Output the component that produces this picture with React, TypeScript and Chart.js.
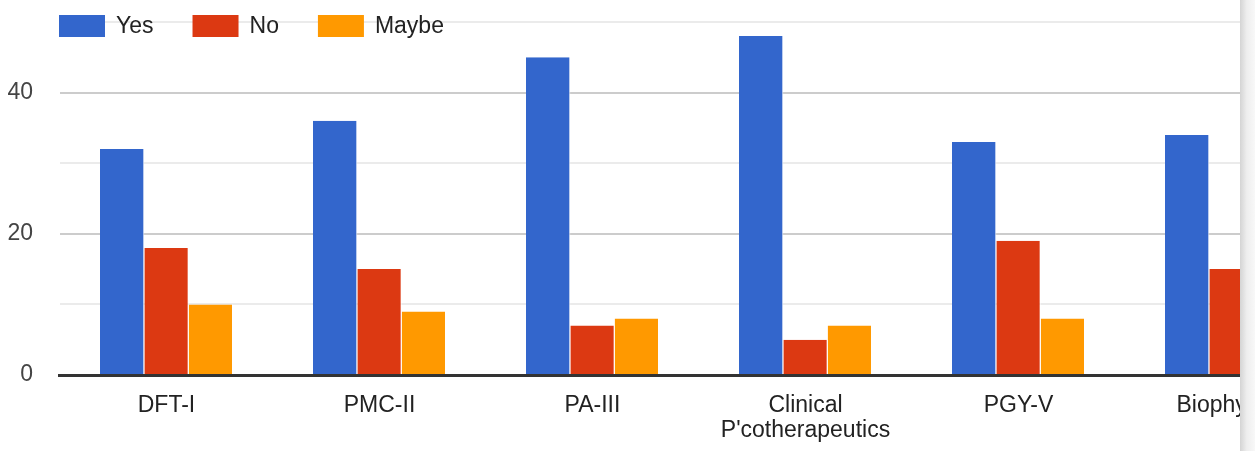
import React, { useEffect, useRef } from "react";
import { Chart, registerables } from "chart.js";

Chart.register(...registerables);

const categories: (string | string[])[] = [
  "DFT-I",
  "PMC-II",
  "PA-III",
  ["Clinical", "P'cotherapeutics"],
  "PGY-V",
  "Biophysics",
];
const yesValues = [32, 36, 45, 48, 33, 34];
const noValues = [18, 15, 7, 5, 19, 15];
const maybeValues = [10, 9, 8, 7, 8, 15];
const seriesNames = ["Yes", "No", "Maybe"];
const seriesColors = ["#3366cc", "#dc3912", "#ff9900"];
const yTickLabels = [0, 20, 40];

const FONT = '"Liberation Sans", Arial, sans-serif';

const overlayPlugin = {
  id: "overlay",
  afterDatasetsDraw(chart: any) {
    const { ctx, chartArea, scales } = chart;
    const y0 = scales.y.getPixelForValue(0);
    ctx.save();
    ctx.strokeStyle = "#333333";
    ctx.lineWidth = 3;
    ctx.beginPath();
    ctx.moveTo(chartArea.left - 2, y0 + 0.5);
    ctx.lineTo(chartArea.right, y0 + 0.5);
    ctx.stroke();

    // legend
    ctx.font = `23px ${FONT}`;
    ctx.textBaseline = "middle";
    ctx.textAlign = "left";
    let x = chartArea.left - 1;
    const cy = 26;
    seriesNames.forEach((name, i) => {
      ctx.fillStyle = seriesColors[i];
      ctx.fillRect(x, cy - 11, 46, 22);
      x += 46 + 11;
      ctx.fillStyle = "#222222";
      ctx.fillText(name, x, cy + 1);
      x += ctx.measureText(name).width + 39;
    });
    ctx.restore();
  },
};

export default function App() {
  const canvasRef = useRef<HTMLCanvasElement | null>(null);

  useEffect(() => {
    if (!canvasRef.current) return;
    const mk = (label: string, data: number[], color: string) => ({
      label,
      data,
      backgroundColor: color,
      borderColor: "#ffffff",
      borderWidth: { top: 0, bottom: 0, left: 0, right: 1 },
      borderSkipped: false,
      categoryPercentage: 0.6244,
      barPercentage: 1,
    });
    const chart = new Chart(canvasRef.current, {
      type: "bar",
      data: {
        labels: categories,
        datasets: [
          mk(seriesNames[0], yesValues, seriesColors[0]),
          mk(seriesNames[1], noValues, seriesColors[1]),
          mk(seriesNames[2], maybeValues, seriesColors[2]),
        ],
      },
      options: {
        animation: false,
        responsive: false,
        devicePixelRatio: 1,
        layout: { padding: { top: 22, left: 0, right: 0, bottom: 0 } },
        plugins: {
          legend: { display: false },
          tooltip: { enabled: false },
        },
        scales: {
          x: {
            grid: { display: false, drawTicks: false },
            border: { display: false },
            ticks: {
              font: { family: FONT, size: 23, lineHeight: 1.1 },
              color: "#222222",
              padding: 18,
              maxRotation: 0,
              autoSkip: false,
            },
            afterFit: (scale: any) => {
              scale.height = 76;
            },
          },
          y: {
            min: 0,
            max: 50,
            border: { display: false },
            grid: {
              drawTicks: false,
              lineWidth: 2,
              color: (c: any) =>
                c.tick && c.tick.value % 20 === 0 ? "#cccccc" : "#ebebeb",
            },
            ticks: {
              stepSize: 10,
              font: { family: FONT, size: 23 },
              color: "#444444",
              padding: 27,
              callback: (v: any) => (yTickLabels.includes(Number(v)) ? String(v) : ""),
            },
            afterFit: (scale: any) => {
              scale.width = 60;
              scale.paddingTop = 0;
              scale.paddingBottom = 0;
            },
          },
        },
      },
      plugins: [overlayPlugin],
    });
    return () => chart.destroy();
  }, []);

  return (
    <div
      style={{
        position: "fixed",
        left: 0,
        top: 0,
        width: 1255,
        height: 451,
        background: "#ffffff",
        overflow: "hidden",
      }}
    >
      <div style={{ position: "absolute", left: 0, top: 0, width: 1240, height: 451, overflow: "hidden" }}>
        <canvas ref={canvasRef} width={1338} height={451} style={{ display: "block", width: 1338, height: 451 }} />
      </div>
      <div
        style={{
          position: "absolute",
          left: 1240,
          top: 0,
          width: 15,
          height: 451,
          background: "linear-gradient(to right, #d4d4d4, #eeeeee 45%, #f8f8f8)",
        }}
      />
    </div>
  );
}
